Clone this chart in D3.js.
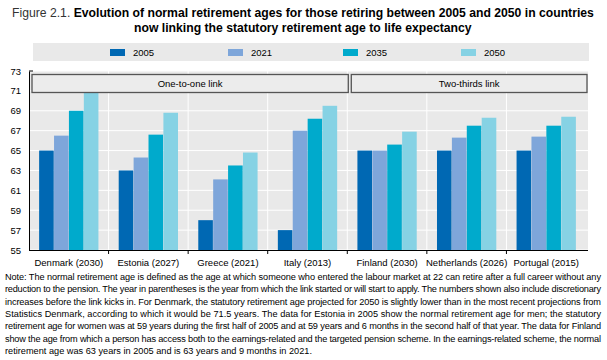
<!DOCTYPE html>
<html><head><meta charset="utf-8">
<script src="https://cdn.jsdelivr.net/npm/d3@7"></script>
<style>body{margin:0;background:#fff}svg{display:block}</style>
</head><body>
<script>
const categories = ["Denmark (2030)","Estonia (2027)","Greece (2021)","Italy (2013)","Finland (2030)","Netherlands (2026)","Portugal (2015)"];
const seriesNames = ["2005","2021","2035","2050"];
const v2005 = [65, 63, 58, 57, 65, 65, 65];
const v2021 = [66.5, 64.3, 62.1, 67, 65, 66.3, 66.4];
const v2035 = [69, 66.6, 63.5, 68.2, 65.6, 67.5, 67.5];
const v2050 = [71, 68.8, 64.8, 69.5, 66.9, 68.3, 68.4];
const yTicks = [55,57,59,61,63,65,67,69,71,73];
const groups = [{label:"One-to-one link", from:0, to:3},{label:"Two-thirds link", from:4, to:6}];
const colors = ["#0068b3","#7ea6da","#00aacc","#86d2e4"];
const noteLines = [
"Note: The normal retirement age is defined as the age at which someone who entered the labour market at 22 can retire after a full career without any",
"reduction to the pension. The year in parentheses is the year from which the link started or will start to apply. The numbers shown also include discretionary",
"increases before the link kicks in. For Denmark, the statutory retirement age projected for 2050 is slightly lower than in the most recent projections from",
"Statistics Denmark, according to which it would be 71.5 years. The data for Estonia in 2005 show the normal retirement age for men; the statutory",
"retirement age for women was at 59 years during the first half of 2005 and at 59 years and 6 months in the second half of that year. The data for Finland",
"show the age from which a person has access both to the earnings-related and the targeted pension scheme. In the earnings-related scheme, the normal",
"retirement age was 63 years in 2005 and is 63 years and 9 months in 2021."
];
const series = [v2005, v2021, v2035, v2050];

const W = 607, H = 360;
const font = "'Liberation Sans',Arial,sans-serif";
const svg = d3.select("body").append("svg").attr("width", W).attr("height", H)
  .style("font-family", font);

// Title (horizontally condensed to mimic the narrow face)
function condensed(sel, x0, targetW) {
  const w = sel.node().getComputedTextLength();
  const k = targetW / w;
  sel.attr("transform", `translate(${x0},0) scale(${k},1)`).attr("x", 0);
}
const t1 = svg.append("text").attr("y", 17).attr("font-size", 13.5).attr("fill","#000");
t1.append("tspan").attr("font-weight","normal").attr("fill","#333").text("Figure 2.1. ");
t1.append("tspan").attr("font-weight","bold").text("Evolution of normal retirement ages for those retiring between 2005 and 2050 in countries");
condensed(t1, 12, 582);
const t2 = svg.append("text").attr("y", 32).attr("font-size", 13.5).attr("font-weight","bold")
  .text("now linking the statutory retirement age to life expectancy");
condensed(t2, 134, 338);

// Legend
svg.append("rect").attr("x",33).attr("y",43).attr("width",556).attr("height",18).attr("fill","#e9e9e9");
const legX = [110, 228, 343, 461];
seriesNames.forEach((s,i)=>{
  svg.append("rect").attr("x",legX[i]).attr("y",49).attr("width",15).attr("height",7).attr("fill",colors[i]);
  svg.append("text").attr("x",legX[i]+23).attr("y",55.5).attr("font-size",9.5).attr("fill","#000").text(s);
});

// Plot
const x0 = 29, x1 = 586, yTop = 71, yBot = 250;
const x = d3.scaleBand().domain(categories).range([x0, x1]).paddingInner(0).paddingOuter(0);
const xs = d3.scaleBand().domain(seriesNames).range([0, x.bandwidth()]).paddingInner(0.02).paddingOuter(0.68);
const y = d3.scaleLinear().domain([55, 73]).range([yBot, yTop]);

svg.append("rect").attr("x",x0).attr("y",yTop).attr("width",x1-x0+2).attr("height",yBot-yTop).attr("fill","#e9e9e9");
svg.append("g").selectAll("line").data(yTicks).join("line")
  .attr("x1",x0).attr("x2",x1+2).attr("y1",d=>y(d)).attr("y2",d=>y(d))
  .attr("stroke","#fff").attr("stroke-width",1);
svg.append("g").selectAll("line").data(categories.slice(1)).join("line")
  .attr("x1",d=>x(d)).attr("x2",d=>x(d)).attr("y1",yTop).attr("y2",yBot)
  .attr("stroke","#fff").attr("stroke-width",1);

// bars
series.forEach((vals,i)=>{
  svg.append("g").selectAll("rect").data(categories).join("rect")
    .attr("x",(c)=>x(c)+xs(seriesNames[i]))
    .attr("width",xs.bandwidth())
    .attr("y",(c,j)=>y(vals[j]))
    .attr("height",(c,j)=>yBot - y(vals[j]))
    .attr("fill",colors[i]);
});

// group headers
groups.forEach((g,i)=>{
  const gx0 = x(categories[g.from]) + (i===0?3:4);
  const gx1 = x(categories[g.to]) + x.bandwidth() + 1;
  svg.append("rect").attr("x",gx0).attr("y",74.5).attr("width",gx1-gx0).attr("height",18)
    .attr("fill","#ececec").attr("stroke","#555").attr("stroke-width",1.3);
  svg.append("text").attr("x",(gx0+gx1)/2).attr("y",87).attr("text-anchor","middle")
    .attr("font-size",9.5).attr("fill","#000").text(g.label);
});

// y axis
const yAxis = svg.append("g").attr("transform",`translate(${x0},0)`)
  .call(d3.axisLeft(y).tickValues(yTicks).tickSize(0).tickPadding(8));
yAxis.select(".domain").attr("stroke","#000");
yAxis.selectAll("text").attr("font-size",9.5).attr("fill","#000").style("font-family",font);

// x axis
const xAxis = svg.append("g").attr("transform",`translate(0,${yBot})`)
  .call(d3.axisBottom(x).tickSize(0).tickPadding(9));
xAxis.select(".domain").attr("stroke","#000").attr("d",`M${x0},0.5H${x1+2}`);
xAxis.selectAll("text").attr("font-size",9.5).attr("fill","#000").style("font-family",font);
svg.append("g").selectAll("line").data(categories.slice(1)).join("line")
  .attr("x1",d=>x(d)).attr("x2",d=>x(d)).attr("y1",yBot).attr("y2",yBot+4)
  .attr("stroke","#000");
svg.append("line").attr("x1",x0).attr("x2",x0+4).attr("y1",yTop).attr("y2",yTop).attr("stroke","#000");

// notes
noteLines.forEach((l,i)=>{
  const t = svg.append("text").attr("x",5).attr("y",280 + i*12.3).attr("font-size",9.2)
    .attr("fill","#000").style("font-family",font).text(l);
  if (i < noteLines.length-1) t.attr("textLength",596).attr("lengthAdjust","spacing");
});
</script>
</body></html>
